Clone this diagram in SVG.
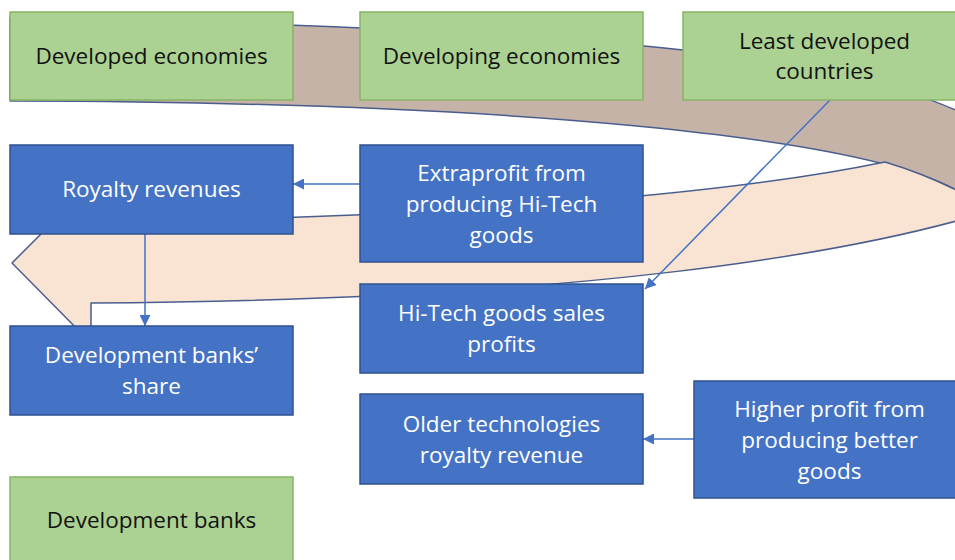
<svg xmlns="http://www.w3.org/2000/svg" width="955" height="560" viewBox="0 0 955 560">
<defs>
<style>
.green{fill:#acd293;stroke:#86b564;stroke-width:1.5}
.blue{fill:#4472c4;stroke:#2f528f;stroke-width:1.5}
.tk{font-family:"Open Sans","Noto Sans",sans-serif;font-size:22.5px;fill:#111;text-anchor:middle}
.tw{font-family:"Open Sans","Noto Sans",sans-serif;font-size:22.5px;fill:#fff;text-anchor:middle}
.band{stroke:#4a5e8e;stroke-width:1.5;stroke-linejoin:round}
.conn{fill:none;stroke:#4472c4;stroke-width:1.5}
</style>
<marker id="ah" viewBox="0 0 10 10" refX="10" refY="5" markerWidth="11" markerHeight="11" markerUnits="userSpaceOnUse" orient="auto">
<path d="M0,0 L10,5 L0,10 z" fill="#4472c4"/>
</marker>
</defs>
<rect width="955" height="560" fill="#fff"/>
<g id="cycle-arrow">
<path class="band" fill="#c5b3a8" d="M10,18 C300,22 560,35 700,52 C820,66 900,85 960,112 L1000,150 L960,192 C860,135 500,102 10,101 Z"/>
<path class="band" fill="#f9e3d3" d="M91,222 C400,218 700,200 885,162 Q925,174 960,192 L1000,200 L960,220 C850,250 600,300 91,303 L91,343 L12,263 L91,184 Z"/>
</g>
<g id="connectors">
<path class="conn" d="M360,184 L293,184" marker-end="url(#ah)"/>
<path class="conn" d="M145,234 L145,326" marker-end="url(#ah)"/>
<path class="conn" d="M830,100 L645,289" marker-end="url(#ah)"/>
<path class="conn" d="M694,439 L643,439" marker-end="url(#ah)"/>
</g>
<g id="developed-economies">
<rect class="green" x="10" y="12" width="283" height="88"/>
<text class="tk" x="151.5" y="64">Developed economies</text>
</g>
<g id="developing-economies">
<rect class="green" x="360" y="12" width="283" height="88"/>
<text class="tk" x="501.5" y="64">Developing economies</text>
</g>
<g id="least-developed">
<rect class="green" x="683" y="12" width="283" height="88"/>
<text class="tk" x="824.5" y="49">Least developed</text>
<text class="tk" x="824.5" y="79">countries</text>
</g>
<g id="royalty-revenues">
<rect class="blue" x="10" y="145" width="283" height="89"/>
<text class="tw" x="151.5" y="197">Royalty revenues</text>
</g>
<g id="extraprofit">
<rect class="blue" x="360" y="145" width="283" height="117"/>
<text class="tw" x="501.5" y="181">Extraprofit from</text>
<text class="tw" x="501.5" y="212">producing Hi-Tech</text>
<text class="tw" x="501.5" y="243">goods</text>
</g>
<g id="hitech-sales">
<rect class="blue" x="360" y="284" width="283" height="89"/>
<text class="tw" x="501.5" y="321">Hi-Tech goods sales</text>
<text class="tw" x="501.5" y="352">profits</text>
</g>
<g id="dev-banks-share">
<rect class="blue" x="10" y="326" width="283" height="89"/>
<text class="tw" x="151.5" y="363">Development banks’</text>
<text class="tw" x="151.5" y="394">share</text>
</g>
<g id="older-tech">
<rect class="blue" x="360" y="394" width="283" height="90"/>
<text class="tw" x="501.5" y="432">Older technologies</text>
<text class="tw" x="501.5" y="463">royalty revenue</text>
</g>
<g id="higher-profit">
<rect class="blue" x="694" y="381" width="271" height="117"/>
<text class="tw" x="829.5" y="417">Higher profit from</text>
<text class="tw" x="829.5" y="448">producing better</text>
<text class="tw" x="829.5" y="479">goods</text>
</g>
<g id="development-banks">
<rect class="green" x="10" y="477" width="283" height="88"/>
<text class="tk" x="151.5" y="528">Development banks</text>
</g>
</svg>
